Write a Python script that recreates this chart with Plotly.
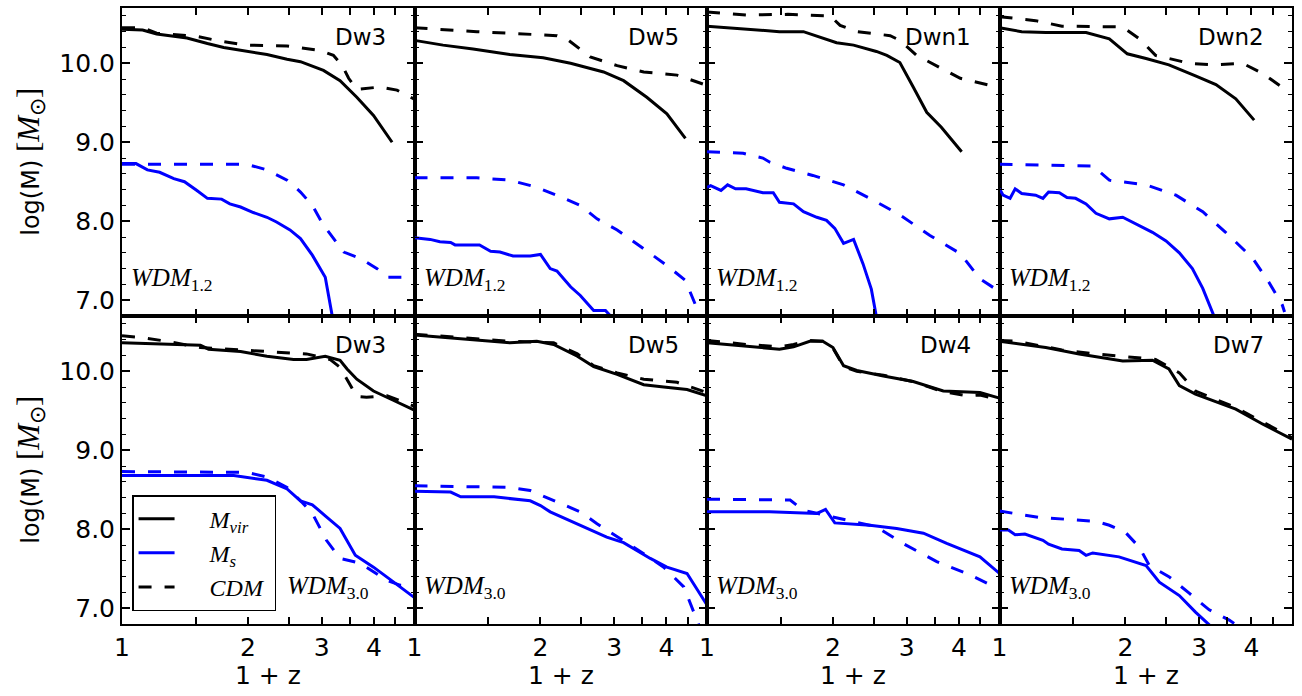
import math
import plotly.graph_objects as go
from plotly.subplots import make_subplots

# ---------------------------------------------------------------------------
# Mass accretion histories: log10 of halo virial mass (M_vir) and stellar
# mass (M_s) versus 1+z, for WDM runs (solid) and their CDM twins (dashed).
# ---------------------------------------------------------------------------

# Row 1, col 1 : Dw3, WDM 1.2
dw3_w12_mvir_x = [1.0, 1.12, 1.21, 1.43, 1.60, 1.75, 2.22, 2.48, 2.67, 3.03, 3.32, 3.64, 3.99, 4.42]
dw3_w12_mvir_y = [10.43, 10.42, 10.37, 10.32, 10.25, 10.20, 10.11, 10.05, 10.02, 9.91, 9.78, 9.57, 9.34, 9.00]
dw3_w12_mvir_cdm_x = [1.0, 1.12, 1.21, 1.51, 1.72, 1.99, 2.48, 2.98, 3.20, 3.36, 3.48, 3.64, 4.14, 4.54, 4.98]
dw3_w12_mvir_cdm_y = [10.45, 10.45, 10.38, 10.34, 10.28, 10.23, 10.22, 10.16, 10.10, 9.97, 9.81, 9.67, 9.70, 9.66, 9.55]
dw3_w12_ms_x = [1.0, 1.08, 1.15, 1.23, 1.33, 1.41, 1.51, 1.60, 1.73, 1.81, 1.92, 2.06, 2.22, 2.34, 2.52, 2.67, 2.85, 3.06, 3.23]
dw3_w12_ms_y = [8.73, 8.73, 8.65, 8.62, 8.54, 8.50, 8.39, 8.29, 8.28, 8.22, 8.18, 8.11, 8.05, 7.99, 7.89, 7.78, 7.57, 7.29, 6.60]
dw3_w12_ms_cdm_x = [1.0, 1.99, 2.22, 2.48, 2.67, 2.85, 3.03, 3.20, 3.39, 3.71, 4.07, 4.33, 4.98]
dw3_w12_ms_cdm_y = [8.72, 8.72, 8.65, 8.52, 8.37, 8.20, 7.95, 7.78, 7.61, 7.53, 7.40, 7.29, 7.29]

# Row 1, col 2 : Dw5, WDM 1.2
dw5_w12_mvir_x = [1.0, 1.17, 1.38, 1.69, 2.03, 2.36, 2.83, 3.16, 3.59, 4.01, 4.44]
dw5_w12_mvir_y = [10.29, 10.23, 10.18, 10.11, 10.07, 10.00, 9.89, 9.78, 9.57, 9.36, 9.05]
dw5_w12_mvir_cdm_x = [1.0, 1.41, 2.19, 2.31, 2.63, 3.05, 3.53, 4.24, 5.0]
dw5_w12_mvir_cdm_y = [10.45, 10.40, 10.35, 10.31, 10.08, 9.97, 9.89, 9.85, 9.72]
dw5_w12_ms_x = [1.0, 1.09, 1.15, 1.22, 1.25, 1.43, 1.52, 1.60, 1.72, 1.89, 2.00, 2.11, 2.19, 2.36, 2.49, 2.68, 2.86, 3.00]
dw5_w12_ms_y = [7.79, 7.77, 7.74, 7.73, 7.70, 7.70, 7.62, 7.61, 7.56, 7.56, 7.58, 7.40, 7.37, 7.17, 7.06, 6.87, 6.87, 6.75]
dw5_w12_ms_cdm_x = [1.0, 1.41, 1.69, 1.96, 2.23, 2.49, 2.73, 3.05, 3.53, 4.01, 4.44, 4.77, 4.90]
dw5_w12_ms_cdm_y = [8.55, 8.55, 8.52, 8.43, 8.31, 8.20, 8.03, 7.89, 7.65, 7.44, 7.25, 6.85, 6.60]

# Row 1, col 3 : Dwn1, WDM 1.2
dwn1_w12_mvir_x = [1.0, 1.18, 1.49, 1.70, 2.04, 2.24, 2.54, 2.69, 2.89, 3.11, 3.35, 3.63, 4.06]
dwn1_w12_mvir_y = [10.47, 10.44, 10.40, 10.40, 10.26, 10.23, 10.15, 10.10, 10.01, 9.70, 9.38, 9.19, 8.88]
dwn1_w12_mvir_cdm_x = [1.0, 1.24, 1.56, 1.97, 2.08, 2.28, 2.74, 2.89, 3.17, 3.54, 4.03, 4.74, 5.0]
dwn1_w12_mvir_cdm_y = [10.65, 10.61, 10.62, 10.60, 10.48, 10.40, 10.35, 10.29, 10.10, 9.97, 9.81, 9.72, 9.70]
dwn1_w12_ms_x = [1.0, 1.02, 1.08, 1.12, 1.17, 1.24, 1.36, 1.44, 1.49, 1.61, 1.70, 1.83, 1.93, 2.02, 2.12, 2.24, 2.36, 2.47, 2.54, 2.58]
dwn1_w12_ms_y = [8.43, 8.45, 8.39, 8.46, 8.41, 8.41, 8.36, 8.36, 8.24, 8.22, 8.12, 8.05, 8.01, 7.91, 7.72, 7.77, 7.46, 7.14, 6.79, 6.60]
dwn1_w12_ms_cdm_x = [1.0, 1.22, 1.36, 1.41, 1.55, 1.79, 2.12, 2.45, 2.89, 3.41, 4.03, 4.49, 5.0]
dwn1_w12_ms_cdm_y = [8.88, 8.86, 8.80, 8.75, 8.67, 8.58, 8.46, 8.29, 8.08, 7.82, 7.59, 7.27, 7.11]

# Row 1, col 4 : Dwn2, WDM 1.2
dwn2_w12_mvir_x = [1.0, 1.13, 1.29, 1.61, 1.83, 2.02, 2.24, 2.54, 2.94, 3.29, 3.67, 4.06]
dwn2_w12_mvir_y = [10.45, 10.40, 10.39, 10.39, 10.31, 10.12, 10.06, 9.98, 9.84, 9.73, 9.55, 9.28]
dwn2_w12_mvir_cdm_x = [1.0, 1.22, 1.41, 1.97, 2.16, 2.36, 2.84, 3.23, 3.81, 4.26, 4.93]
dwn2_w12_mvir_cdm_y = [10.59, 10.54, 10.47, 10.46, 10.31, 10.10, 10.00, 9.98, 10.00, 9.87, 9.63]
dwn2_w12_ms_x = [1.0, 1.02, 1.06, 1.09, 1.13, 1.22, 1.27, 1.31, 1.39, 1.45, 1.52, 1.61, 1.70, 1.83, 1.97, 2.04, 2.16, 2.32, 2.50, 2.69, 2.89, 3.06, 3.26, 3.30]
dwn2_w12_ms_y = [8.41, 8.33, 8.29, 8.41, 8.35, 8.33, 8.29, 8.37, 8.36, 8.30, 8.29, 8.22, 8.10, 8.03, 8.05, 8.01, 7.95, 7.86, 7.75, 7.60, 7.40, 7.15, 6.79, 6.70]
dwn2_w12_ms_cdm_x = [1.0, 1.67, 1.83, 2.24, 2.64, 3.06, 3.47, 4.03, 4.40, 4.74, 4.80]
dwn2_w12_ms_cdm_y = [8.72, 8.70, 8.52, 8.46, 8.33, 8.12, 7.86, 7.53, 7.23, 6.94, 6.85]

# Row 2, col 1 : Dw3, WDM 3.0
dw3_w30_mvir_x = [1.0, 1.54, 1.61, 1.92, 2.22, 2.57, 2.76, 3.06, 3.32, 3.45, 3.64, 3.99, 4.46, 4.98]
dw3_w30_mvir_y = [10.36, 10.33, 10.28, 10.25, 10.19, 10.15, 10.15, 10.19, 10.14, 10.03, 9.90, 9.75, 9.63, 9.51]
dw3_w30_mvir_cdm_x = [1.0, 1.10, 1.28, 1.54, 1.92, 2.76, 3.14, 3.32, 3.48, 3.64, 3.84, 4.30, 4.98]
dw3_w30_mvir_cdm_y = [10.45, 10.43, 10.38, 10.30, 10.27, 10.22, 10.15, 10.05, 9.86, 9.68, 9.67, 9.69, 9.56]
dw3_w30_ms_x = [1.0, 1.85, 2.22, 2.48, 2.67, 2.85, 3.06, 3.32, 3.61, 3.99, 4.46, 4.98]
dw3_w30_ms_y = [8.68, 8.68, 8.62, 8.51, 8.36, 8.31, 8.17, 8.01, 7.67, 7.52, 7.33, 7.14]
dw3_w30_ms_cdm_x = [1.0, 1.99, 2.22, 2.48, 2.67, 2.85, 3.08, 3.32, 3.71, 4.30, 4.63, 4.98]
dw3_w30_ms_cdm_y = [8.73, 8.72, 8.66, 8.53, 8.36, 8.20, 7.86, 7.63, 7.57, 7.35, 7.29, 7.29]

# Row 2, col 2 : Dw5, WDM 3.0
dw5_w30_mvir_x = [1.0, 1.17, 1.41, 1.69, 1.96, 2.15, 2.45, 2.68, 3.05, 3.53, 3.94, 4.48, 5.0]
dw5_w30_mvir_y = [10.46, 10.43, 10.39, 10.36, 10.38, 10.34, 10.19, 10.06, 9.96, 9.83, 9.80, 9.77, 9.69]
dw5_w30_mvir_cdm_x = [1.0, 1.41, 1.69, 2.15, 2.45, 2.68, 3.05, 3.53, 4.24, 5.0]
dw5_w30_mvir_cdm_y = [10.47, 10.41, 10.38, 10.36, 10.22, 10.07, 9.98, 9.90, 9.86, 9.73]
dw5_w30_ms_x = [1.0, 1.22, 1.29, 1.55, 1.89, 2.00, 2.11, 2.49, 2.68, 2.88, 3.16, 3.66, 4.01, 4.48, 5.0]
dw5_w30_ms_y = [8.48, 8.47, 8.41, 8.41, 8.36, 8.30, 8.22, 8.05, 7.98, 7.90, 7.83, 7.63, 7.52, 7.44, 7.04]
dw5_w30_ms_cdm_x = [1.0, 1.69, 1.89, 2.15, 2.49, 2.73, 3.16, 3.53, 3.94, 4.40, 4.73, 4.85]
dw5_w30_ms_cdm_y = [8.55, 8.53, 8.49, 8.36, 8.22, 8.07, 7.86, 7.69, 7.52, 7.27, 6.85, 6.70]

# Row 2, col 3 : Dw4, WDM 3.0
dw4_w30_mvir_x = [1.0, 1.24, 1.49, 1.61, 1.76, 1.89, 2.00, 2.12, 2.28, 2.64, 3.11, 3.67, 4.49, 5.0]
dw4_w30_mvir_y = [10.36, 10.32, 10.28, 10.31, 10.38, 10.38, 10.30, 10.07, 10.01, 9.94, 9.87, 9.75, 9.73, 9.66]
dw4_w30_mvir_cdm_x = [1.0, 1.24, 1.49, 1.61, 1.76, 1.89, 2.00, 2.12, 2.28, 2.64, 3.11, 3.67, 4.20, 4.49, 5.0]
dw4_w30_mvir_cdm_y = [10.39, 10.34, 10.31, 10.34, 10.39, 10.38, 10.29, 10.06, 10.00, 9.95, 9.87, 9.74, 9.69, 9.70, 9.64]
dw4_w30_ms_x = [1.0, 1.41, 1.83, 1.92, 2.02, 2.45, 2.84, 3.29, 3.74, 4.49, 5.0]
dw4_w30_ms_y = [8.22, 8.22, 8.20, 8.25, 8.08, 8.05, 8.01, 7.95, 7.82, 7.65, 7.44]
dw4_w30_ms_cdm_x = [1.0, 1.58, 1.70, 2.12, 2.54, 2.94, 3.54, 4.26, 5.0]
dw4_w30_ms_cdm_y = [8.38, 8.37, 8.24, 8.12, 8.03, 7.82, 7.59, 7.42, 7.24]

# Row 2, col 4 : Dw7, WDM 3.0
dw7_w30_mvir_x = [1.0, 1.29, 1.55, 1.97, 2.32, 2.54, 2.69, 2.94, 3.67, 4.26, 5.0]
dw7_w30_mvir_y = [10.38, 10.30, 10.22, 10.13, 10.14, 10.03, 9.82, 9.71, 9.52, 9.33, 9.14]
dw7_w30_mvir_cdm_x = [1.0, 1.10, 1.41, 1.70, 2.36, 2.69, 2.94, 3.67, 5.0]
dw7_w30_mvir_cdm_y = [10.39, 10.38, 10.27, 10.22, 10.15, 9.98, 9.75, 9.54, 9.16]
dw7_w30_ms_x = [1.0, 1.05, 1.09, 1.15, 1.27, 1.31, 1.41, 1.55, 1.61, 1.67, 1.93, 2.24, 2.41, 2.69, 2.94, 3.17, 3.25]
dw7_w30_ms_y = [7.99, 7.99, 7.93, 7.94, 7.86, 7.81, 7.75, 7.73, 7.67, 7.70, 7.65, 7.54, 7.33, 7.16, 6.95, 6.79, 6.70]
dw7_w30_ms_cdm_x = [1.0, 1.24, 1.70, 1.83, 2.00, 2.16, 2.28, 2.54, 2.84, 3.17, 3.54, 3.70]
dw7_w30_ms_cdm_y = [8.23, 8.15, 8.10, 8.05, 7.96, 7.77, 7.54, 7.40, 7.19, 6.98, 6.85, 6.78]

halo_names = ["Dw3", "Dw5", "Dwn1", "Dwn2", "Dw3", "Dw5", "Dw4", "Dw7"]
wdm_labels = ["1.2", "1.2", "1.2", "1.2", "3.0", "3.0", "3.0", "3.0"]

x_tick_vals = [1, 2, 3, 4]
x_tick_text = ["1", "2", "3", "4"]
x_minor_vals = [1.5, 2.5, 3.5, 4.5]
y_tick_vals = [7.0, 8.0, 9.0, 10.0]
x_range = [1.0, 5.0]
y_range = [6.8, 10.7]

panels = [
    (dw3_w12_mvir_x, dw3_w12_mvir_y, dw3_w12_mvir_cdm_x, dw3_w12_mvir_cdm_y,
     dw3_w12_ms_x, dw3_w12_ms_y, dw3_w12_ms_cdm_x, dw3_w12_ms_cdm_y),
    (dw5_w12_mvir_x, dw5_w12_mvir_y, dw5_w12_mvir_cdm_x, dw5_w12_mvir_cdm_y,
     dw5_w12_ms_x, dw5_w12_ms_y, dw5_w12_ms_cdm_x, dw5_w12_ms_cdm_y),
    (dwn1_w12_mvir_x, dwn1_w12_mvir_y, dwn1_w12_mvir_cdm_x, dwn1_w12_mvir_cdm_y,
     dwn1_w12_ms_x, dwn1_w12_ms_y, dwn1_w12_ms_cdm_x, dwn1_w12_ms_cdm_y),
    (dwn2_w12_mvir_x, dwn2_w12_mvir_y, dwn2_w12_mvir_cdm_x, dwn2_w12_mvir_cdm_y,
     dwn2_w12_ms_x, dwn2_w12_ms_y, dwn2_w12_ms_cdm_x, dwn2_w12_ms_cdm_y),
    (dw3_w30_mvir_x, dw3_w30_mvir_y, dw3_w30_mvir_cdm_x, dw3_w30_mvir_cdm_y,
     dw3_w30_ms_x, dw3_w30_ms_y, dw3_w30_ms_cdm_x, dw3_w30_ms_cdm_y),
    (dw5_w30_mvir_x, dw5_w30_mvir_y, dw5_w30_mvir_cdm_x, dw5_w30_mvir_cdm_y,
     dw5_w30_ms_x, dw5_w30_ms_y, dw5_w30_ms_cdm_x, dw5_w30_ms_cdm_y),
    (dw4_w30_mvir_x, dw4_w30_mvir_y, dw4_w30_mvir_cdm_x, dw4_w30_mvir_cdm_y,
     dw4_w30_ms_x, dw4_w30_ms_y, dw4_w30_ms_cdm_x, dw4_w30_ms_cdm_y),
    (dw7_w30_mvir_x, dw7_w30_mvir_y, dw7_w30_mvir_cdm_x, dw7_w30_mvir_cdm_y,
     dw7_w30_ms_x, dw7_w30_ms_y, dw7_w30_ms_cdm_x, dw7_w30_ms_cdm_y),
]

BLACK = "#000000"
BLUE = "#0000ff"
DASH = "13px,13px"
LW = 3
SANS = "DejaVu Sans"
SERIF = "Liberation Serif"
PAD = "&nbsp;" * 5  # gap between legend line sample and its label

fig = make_subplots(rows=2, cols=4, horizontal_spacing=0, vertical_spacing=0)

for i, p in enumerate(panels):
    row, col = i // 4 + 1, i % 4 + 1
    mx, my, mcx, mcy, sx, sy, scx, scy = p
    first = i == 4  # legend entries come from the lower-left panel
    fig.add_trace(go.Scatter(x=mx, y=my, mode="lines",
                             name=PAD + "<i>M</i><sub><i>vir</i></sub>",
                             line=dict(color=BLACK, width=LW), showlegend=first,
                             legendrank=1), row=row, col=col)
    fig.add_trace(go.Scatter(x=sx, y=sy, mode="lines",
                             name=PAD + "<i>M</i><sub><i>s</i></sub>",
                             line=dict(color=BLUE, width=LW), showlegend=first,
                             legendrank=2), row=row, col=col)
    fig.add_trace(go.Scatter(x=mcx, y=mcy, mode="lines", name=PAD + "<i>CDM</i>&nbsp;",
                             line=dict(color=BLACK, width=LW, dash=DASH), showlegend=first,
                             legendrank=3), row=row, col=col)
    fig.add_trace(go.Scatter(x=scx, y=scy, mode="lines", name="CDM Ms",
                             line=dict(color=BLUE, width=LW, dash=DASH), showlegend=False),
                  row=row, col=col)

    xref = "x domain" if i == 0 else f"x{i + 1} domain"
    yref = "y domain" if i == 0 else f"y{i + 1} domain"
    fig.add_annotation(text=halo_names[i], xref=xref, yref=yref, x=0.91, y=0.905,
                       xanchor="right", yanchor="middle", showarrow=False,
                       font=dict(family=SANS, size=23, color=BLACK))
    wx = 0.557 if i == 4 else 0.025
    fig.add_annotation(text=f"<i>WDM</i><sub>{wdm_labels[i]}</sub>", xref=xref, yref=yref,
                       x=wx, y=0.12, xanchor="left", yanchor="middle", showarrow=False,
                       font=dict(family=SERIF, size=25, color=BLACK))

for i in range(8):
    row, col = i // 4 + 1, i % 4 + 1
    fig.update_xaxes(type="log", range=[math.log10(x_range[0]), math.log10(x_range[1])],
                     tickmode="array", tickvals=x_tick_vals, ticktext=x_tick_text,
                     ticks="inside", ticklen=7, tickwidth=1.5, tickcolor=BLACK,
                     minor=dict(tickmode="array", tickvals=x_minor_vals, ticks="inside",
                                ticklen=7, tickwidth=1.5, tickcolor=BLACK),
                     showline=True, linewidth=2, linecolor=BLACK, mirror="allticks",
                     showgrid=False, zeroline=False, showticklabels=(row == 2),
                     tickfont=dict(family=SANS, size=25, color=BLACK),
                     row=row, col=col)
    fig.update_yaxes(range=y_range, tickmode="array", tickvals=y_tick_vals, tickformat=".1f",
                     ticks="inside", ticklen=8, tickwidth=1.5, tickcolor=BLACK,
                     minor=dict(tickmode="linear", tick0=7.0, dtick=0.2, ticks="inside",
                                ticklen=4, tickwidth=1.2, tickcolor=BLACK),
                     showline=True, linewidth=2, linecolor=BLACK, mirror="allticks",
                     showgrid=False, zeroline=False, showticklabels=(col == 1),
                     tickfont=dict(family=SANS, size=25, color=BLACK),
                     row=row, col=col)

# Axis titles
ytitle = ("log(M) <span style=\"font-family:Liberation Serif;font-size:31px\">"
          "[<i>M</i><sub>⊙</sub>]</span>")
for yc in (0.75, 0.25):
    fig.add_annotation(text=ytitle, xref="paper", yref="paper", x=-0.078, y=yc,
                       xanchor="center", yanchor="middle", textangle=-90, showarrow=False,
                       font=dict(family=SANS, size=24, color=BLACK))
for c in range(4):
    fig.add_annotation(text="1 + z", xref="paper", yref="paper", x=(c + 0.5) / 4, y=-0.084,
                       xanchor="center", yanchor="middle", showarrow=False,
                       font=dict(family=SANS, size=25, color=BLACK))

fig.update_layout(
    width=1302, height=696,
    margin=dict(l=122, r=10, t=6, b=72),
    paper_bgcolor="white", plot_bgcolor="white",
    showlegend=True,
    legend=dict(x=0.0086, y=0.021, xanchor="left", yanchor="bottom",
                bgcolor="white", bordercolor=BLACK, borderwidth=1.5,
                font=dict(family=SERIF, size=24, color=BLACK),
                tracegroupgap=0, itemwidth=36),
)

fig.write_html("out.html")
